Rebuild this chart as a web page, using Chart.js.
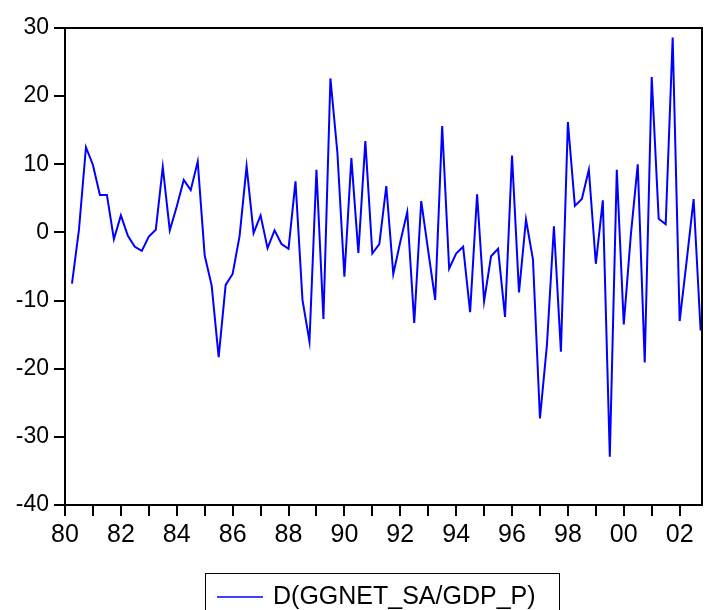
<!DOCTYPE html>
<html>
<head>
<meta charset="utf-8">
<script src="https://cdn.jsdelivr.net/npm/chart.js@4.4.1/dist/chart.umd.min.js"></script>
<style>
  html, body { margin: 0; padding: 0; background: #fff; }
  #wrap { width: 707px; height: 610px; position: relative; }
</style>
</head>
<body>
<div id="wrap"><canvas id="chart"></canvas></div>
<script>
// Quarterly series, 1980Q2 .. 2002Q4 (first difference, so 1980Q1 is missing)
const seriesName = 'D(GGNET_SA/GDP_P)';
const firstQuarter = 1; // quarters after 1980Q1
const values = [
  -7.5, 0.4, 12.5,                 // 1980 Q2-Q4
  9.9, 5.5, 5.5, -1.0,             // 1981
  2.5, -0.5, -2.1, -2.7,           // 1982
  -0.6, 0.4, 9.6, 0.3,             // 1983
  3.8, 7.7, 6.2, 10.4,             // 1984
  -3.4, -7.8, -18.3, -7.7,         // 1985
  -6.1, -0.5, 9.7, -0.1,           // 1986
  2.5, -2.3, 0.3, -1.7,            // 1987
  -2.4, 7.5, -9.9, -16.0,          // 1988
  9.2, -12.7, 22.6, 11.7,          // 1989
  -6.5, 10.9, -3.0, 13.4,          // 1990
  -3.1, -1.7, 6.8, -6.1,           // 1991
  -1.4, 3.0, -13.3, 4.6,           // 1992
  -2.7, -9.9, 15.6, -5.3,          // 1993
  -3.1, -2.1, -11.7, 5.6,          // 1994
  -10.1, -3.5, -2.4, -12.4,        // 1995
  11.3, -8.8, 1.9, -4.0,           // 1996
  -27.3, -16.5, 0.9, -17.5,        // 1997
  16.2, 3.9, 4.9, 9.2,             // 1998
  -4.6, 4.7, -32.9, 9.2,           // 1999
  -13.5, -0.5, 10.0, -19.1,        // 2000
  22.8, 2.0, 1.2, 28.6,            // 2001
  -13.0, -4.2, 4.9, -14.4          // 2002
];
const yearLabels = ['80', '81', '82', '83', '84', '85', '86', '87', '88', '89', '90', '91',
  '92', '93', '94', '95', '96', '97', '98', '99', '00', '01', '02'];
const yTicks = [-40, -30, -20, -10, 0, 10, 20, 30];

const points = values.map((v, k) => ({ x: firstQuarter + k, y: v }));

// frame, outward tick marks and the boxed legend under the plot
const framePlugin = {
  id: 'frame',
  afterDraw(chart) {
    const { ctx, chartArea: a, scales } = chart;
    ctx.save();
    ctx.strokeStyle = '#000';
    ctx.lineWidth = 2;
    ctx.strokeRect(a.left, a.top, a.right - a.left, a.bottom - a.top);

    // x tick marks, below the frame
    ctx.beginPath();
    yearLabels.forEach((_, i) => {
      const px = Math.round(scales.x.getPixelForValue(i * 4));
      ctx.moveTo(px, a.bottom);
      ctx.lineTo(px, a.bottom + 11);
    });
    ctx.stroke();

    // y tick marks, left of the frame
    ctx.beginPath();
    yTicks.forEach((v) => {
      const py = Math.round(scales.y.getPixelForValue(v));
      ctx.moveTo(a.left - 11, py);
      ctx.lineTo(a.left + 1, py);
    });
    ctx.stroke();

    // legend box
    ctx.lineWidth = 1;
    ctx.strokeRect(205.5, 573.5, 354, 40);
    ctx.strokeStyle = '#0000ff';
    ctx.lineWidth = 1.5;
    ctx.beginPath();
    ctx.moveTo(217, 597);
    ctx.lineTo(263, 597);
    ctx.stroke();
    ctx.fillStyle = '#000';
    ctx.font = '25px "Liberation Sans", Arial, sans-serif';
    ctx.textAlign = 'left';
    ctx.textBaseline = 'alphabetic';
    ctx.fillText(chart.data.datasets[0].label, 273, 604);
    ctx.restore();
  }
};

new Chart(document.getElementById('chart'), {
  type: 'line',
  data: {
    datasets: [{
      label: seriesName,
      data: points,
      borderColor: '#0000ff',
      borderWidth: 2,
      pointRadius: 0,
      tension: 0,
      fill: false
    }]
  },
  options: {
    responsive: true,
    maintainAspectRatio: false,
    animation: false,
    layout: { padding: { left: 0, right: 5, top: 28, bottom: 0 } },
    plugins: { legend: { display: false }, tooltip: { enabled: false } },
    scales: {
      x: {
        type: 'linear',
        min: 0,
        max: 91.2,
        afterFit: (s) => { s.height = 105; },
        afterBuildTicks: (s) => { s.ticks = yearLabels.map((_, i) => ({ value: i * 4 })); },
        border: { display: false },
        grid: { drawOnChartArea: false, drawTicks: true, tickLength: 11, lineWidth: 0, tickColor: 'rgba(0,0,0,0)' },
        ticks: {
          color: '#000',
          padding: 4,
          maxRotation: 0,
          autoSkip: false,
          font: { family: '"Liberation Sans", Arial, sans-serif', size: 25 },
          callback: (v) => {
            const i = Math.round(v / 4);
            return i % 2 === 0 ? yearLabels[i] : '';
          }
        }
      },
      y: {
        min: -40,
        max: 30,
        afterFit: (s) => { s.width = 65; },
        afterBuildTicks: (s) => { s.ticks = yTicks.map((v) => ({ value: v })); },
        border: { display: false },
        grid: { drawOnChartArea: false, drawTicks: true, tickLength: 10, lineWidth: 0, tickColor: 'rgba(0,0,0,0)' },
        ticks: {
          color: '#000',
          padding: 6,
          font: { family: '"Liberation Sans", Arial, sans-serif', size: 23 }
        }
      }
    }
  },
  plugins: [framePlugin]
});
</script>
</body>
</html>
